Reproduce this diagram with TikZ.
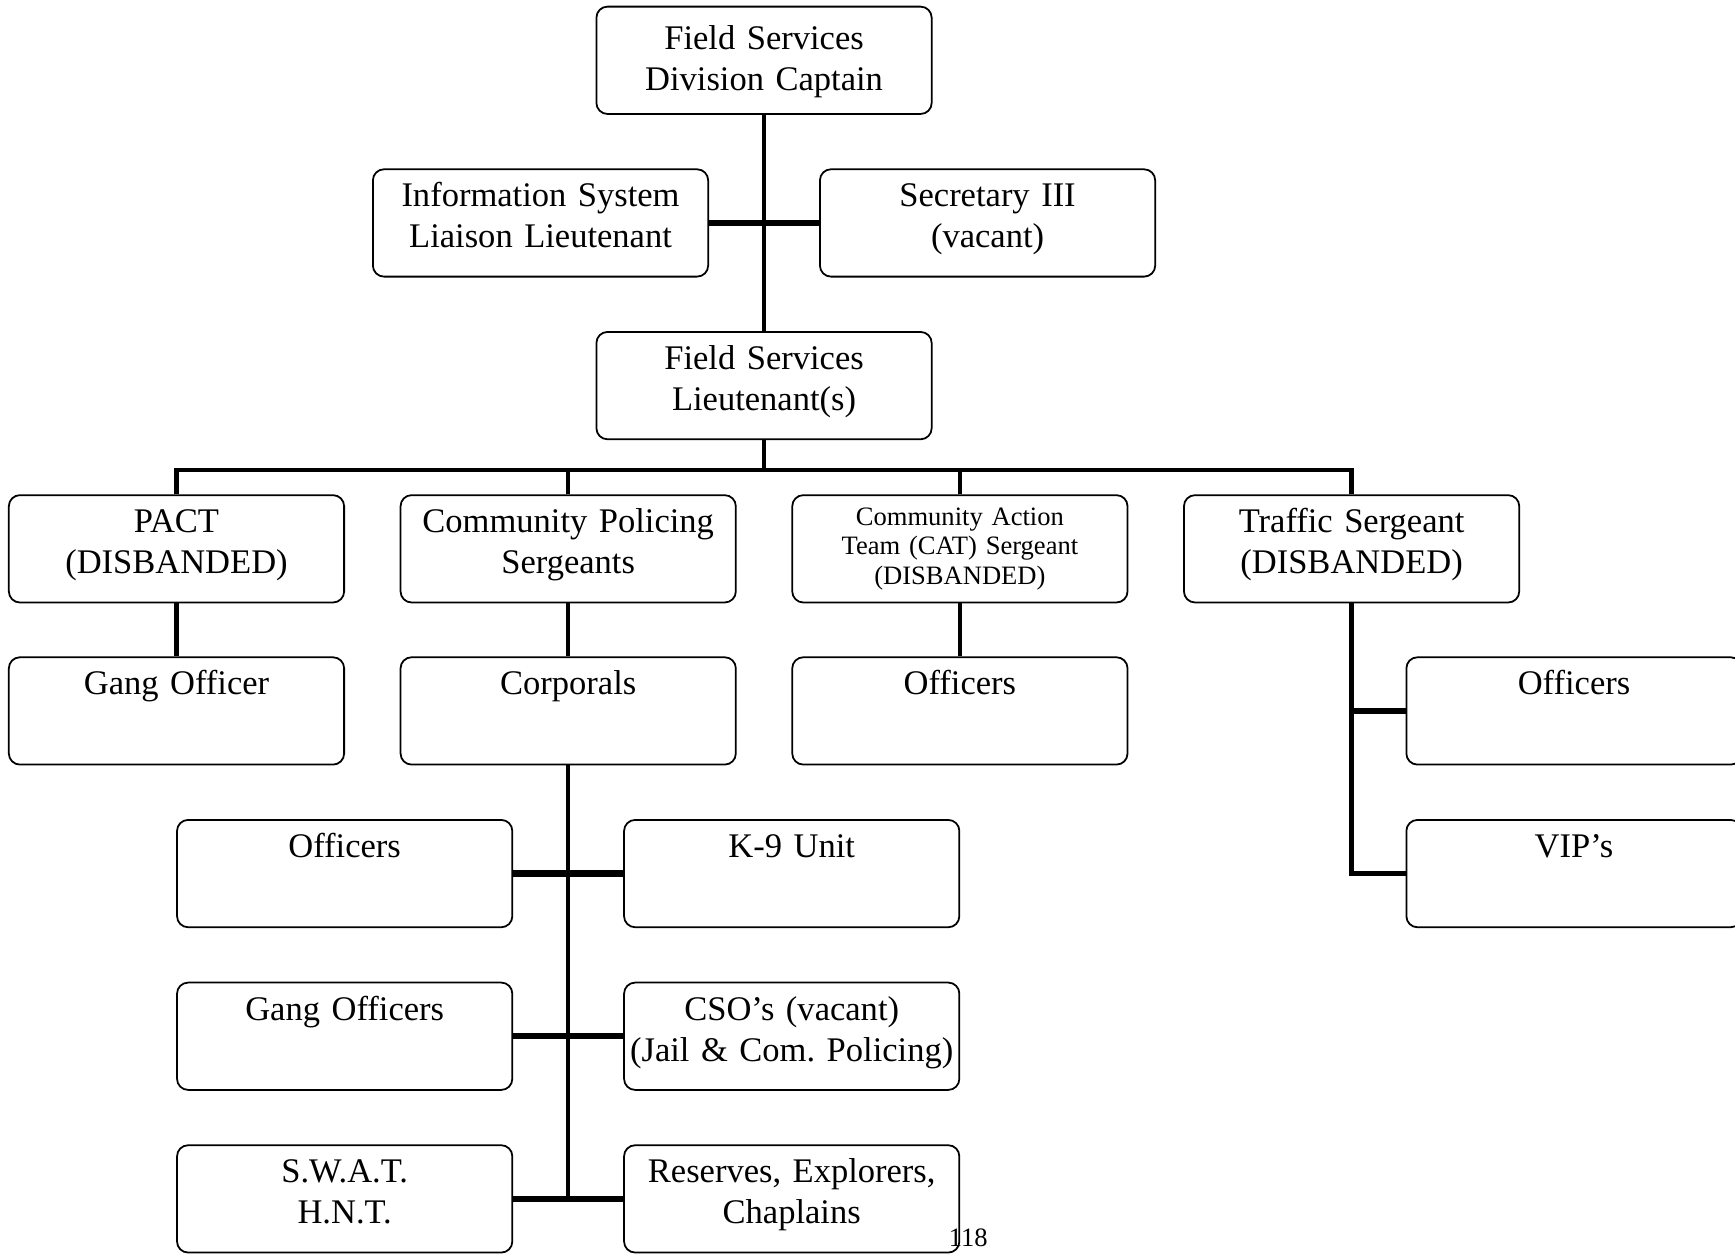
\documentclass[tikz,border=0pt]{standalone}
\usepackage{fontspec}
\setmainfont{Liberation Serif}
\begin{document}
\begin{tikzpicture}[x=0.5pt,y=-0.5pt,
	kasten/.style={draw, rounded corners=5pt, line width=0.8pt, align=center, text width=150.5pt, inner xsep=0.5pt, inner ysep=5pt, text height=12pt, text depth=26.5pt, font=\fontsize{15.6}{18.5}\selectfont},
	klein/.style={kasten, inner ysep=4.5pt, text height=9pt, text depth=30.5pt, font=\fontsize{12}{13.5}\selectfont},
	linie/.style={line width=2pt},
	ast/.style={line width=2.8pt}]
			% Rahmen festlegen
			\useasboundingbox (0,0) rectangle (1568,1133);

			% Kaesten oben
			\node[kasten, inner ysep=7.5pt, text depth=21.5pt] (captain) at (690.5,54.5) {Field Services\\Division Captain};
			\node[kasten] (info) at (488.5,201.5) {Information System\\Liaison Lieutenant};
			\node[kasten] (sec) at (892.5,201.5) {Secretary III\\(vacant)};
			\node[kasten] (lt) at (690.5,348.5) {Field Services\\Lieutenant(s)};

			% erste Reihe
			\node[kasten] (pact) at (159.5,496) {PACT\\(DISBANDED)};
			\node[kasten] (cps) at (513.5,496) {Community Policing\\Sergeants};
			\node[klein] (cat) at (867.5,496) {Community Action\\Team (CAT) Sergeant\\(DISBANDED)};
			\node[kasten] (traffic) at (1221.5,496) {Traffic Sergeant\\(DISBANDED)};

			% zweite Reihe
			\node[kasten] (gang) at (159.5,642.5) {Gang Officer};
			\node[kasten] (corp) at (513.5,642.5) {Corporals};
			\node[kasten] (cato) at (867.5,642.5) {Officers};
			\node[kasten] (toff) at (1422.5,642.5) {Officers};

			% unter den Corporals
			\node[kasten] (off) at (311.5,789.5) {Officers};
			\node[kasten] (k9) at (715.5,789.5) {K-9 Unit};
			\node[kasten] (vip) at (1422.5,789.5) {VIP's};
			\node[kasten] (gangs) at (311.5,936.5) {Gang Officers};
			\node[kasten] (cso) at (715.5,936.5) {CSO's (vacant)\\(Jail \& Com.~Policing)};
			\node[kasten] (swat) at (311.5,1083.5) {S.W.A.T.\\H.N.T.};
			\node[kasten] (res) at (715.5,1083.5) {Reserves, Explorers,\\Chaplains};

			% Seitenzahl
			\node[font=\fontsize{12}{14}\selectfont] (seite) at (875,1119) {118};

			% Linien oben
			\draw[linie] (captain) -- (lt);
			\draw[ast] (info) -- (sec);
			\coordinate (bus) at (690.5,425);
			\draw[linie] (lt) -- (bus);
			\draw[linie] (pact.north) |- (bus) -| (traffic.north);
			\draw[linie] (cps.north) -- (cps.north |- bus);
			\draw[linie] (cat.north) -- (cat.north |- bus);

			% Linien zur zweiten Reihe
			\draw[linie] (pact) -- (gang);
			\draw[linie] (cps) -- (corp);
			\draw[linie] (cat) -- (cato);
			\draw[linie] (traffic.south) |- (vip.west);
			\draw[ast] (traffic.south |- toff.west) -- (toff.west);

			% Corporals nach unten
			\draw[linie] (corp.south) -- (corp.south |- swat.east);
			\draw[ast] (off) -- (k9);
			\draw[ast] (gangs) -- (cso);
			\draw[ast] (swat) -- (res);
		\end{tikzpicture}
\end{document}
